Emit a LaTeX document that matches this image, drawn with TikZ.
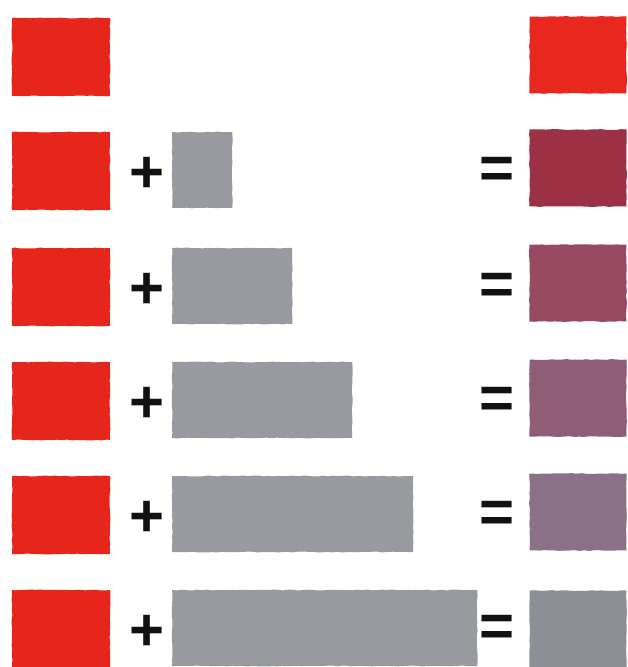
\documentclass[tikz,border=0pt]{standalone}
\usepackage{fontspec}
\setmainfont{Liberation Sans}
\usepackage{xcolor}
\usetikzlibrary{positioning,decorations.pathmorphing}
\definecolor{paint}{HTML}{E6261B}
\definecolor{wash}{HTML}{989A9F}
\definecolor{ink}{HTML}{111111}
\definecolor{mixa}{HTML}{E8281E}
\definecolor{mixb}{HTML}{9C3146}
\definecolor{mixc}{HTML}{984A63}
\definecolor{mixd}{HTML}{8F5D7A}
\definecolor{mixe}{HTML}{8C7087}
\definecolor{mixf}{HTML}{8E8E96}
\tikzset{
  swatch/.style={inner sep=0pt, minimum width=98pt, minimum height=78pt,
                 decorate, decoration={random steps, segment length=5pt, amplitude=0.45pt}},
  redpatch/.style={swatch, fill=paint},
  greypatch/.style={swatch, fill=wash, anchor=west, minimum height=76pt},
  mixpatch/.style={swatch, minimum width=97pt, minimum height=77pt},
  sign/.style={font=\fontsize{60}{60}\selectfont\bfseries, text=ink, inner sep=0pt}
}

\begin{document}
\begin{tikzpicture}[x=1pt,y=-1pt]
        \pgfmathsetseed{7}
        \useasboundingbox[fill=white] (0,0) rectangle (627,667);

        % first row: the pure red on both sides
        \node[redpatch] (red1) at (61,57) {};
        \node[mixpatch,fill=mixa] (mix1) at (578,55) {};

        % red plus a growing amount of grey
        \foreach \n/\y/\my/\w/\col in {2/171/168/60/mixb,3/287/283/120/mixc,
            4/401/398/180/mixd,5/515/512/241/mixe,6/629/629/305/mixf} {
          \node[redpatch] (red\n) at (61,\y) {};
          \node[sign] (plus\n) at (147,\y+4) {+};
          \node[greypatch,minimum width=\w] (grey\n) at (172,\y-1) {};
          \node[sign] (eq\n) at (497,\y+2) {=};
          \node[mixpatch,fill=\col] (mix\n) at (578,\my) {};
        }
      \end{tikzpicture}
\end{document}
